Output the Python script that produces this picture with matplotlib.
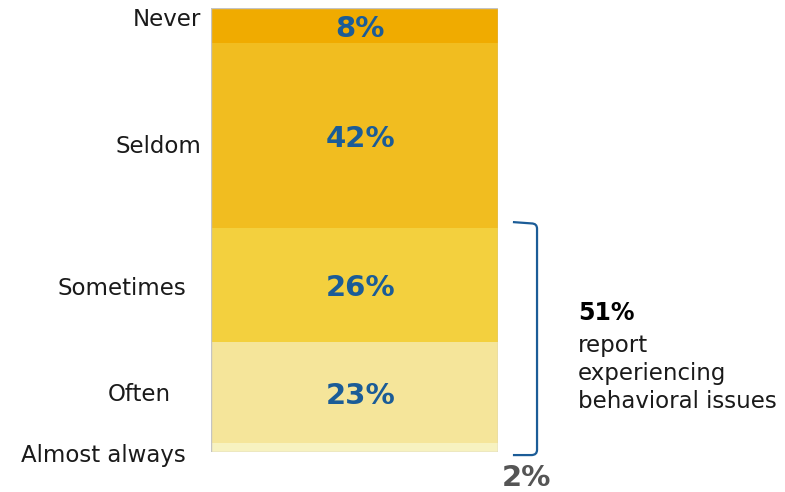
import matplotlib.pyplot as plt
from matplotlib.path import Path
from matplotlib.patches import PathPatch, Rectangle

# Frecuencia de problemas de conducta (% de respuestas)
categorias = ['Almost always', 'Often', 'Sometimes', 'Seldom', 'Never']
porcentajes = [2, 23, 26, 42, 8]
colores = ['#F7F2C0', '#F5E59A', '#F3D03E', '#F1BD20', '#F0AB00']
etiquetas_valor = ['', '23%', '26%', '42%', '8%']
# desplazamiento de cada etiqueta de categoría respecto al centro del tramo
desplaz_x = [-0.087, -0.139, -0.087, -0.035, -0.035]
desplaz_y = [-1.9, -0.5, -0.7, -2.4, 1.3]

total_problemas = 51
texto_problemas = ['report', 'experiencing', 'behavioral issues']

azul = '#1B5C97'

fig = plt.figure(figsize=(7.85, 4.92), dpi=100)
ax = fig.add_axes([211 / 785, 40 / 492, 287 / 785, 444 / 492])

base = 0
for cat, val, col, etq, dx, dy in zip(categorias, porcentajes, colores,
                                      etiquetas_valor, desplaz_x, desplaz_y):
    ax.bar(0.5, val, width=1, bottom=base, color=col, edgecolor='none')
    centro = base + val / 2
    if etq:
        ax.text(0.52, centro - 0.7, etq, ha='center', va='center', fontsize=21,
                fontweight='bold', color=azul)
    ax.text(dx, centro + dy, cat, ha='right', va='center', fontsize=16.5,
            color='#1a1a1a', clip_on=False)
    base += val

# borde exterior de la barra
ax.add_patch(Rectangle((0, 0), 1, base, fill=False, edgecolor='#c4c4c4', lw=1))

ax.set_xlim(0, 1)
ax.set_ylim(0, base)
ax.axis('off')

# corchete que agrupa Sometimes + Often + Almost always
y_top = total_problemas + 1.3
y_bot = -0.7
x0, x1 = 1.052, 1.136
rx, ry = 0.02, 1.2
verts = [(x0, y_top), (x1 - rx, y_top - 0.3), (x1, y_top - 0.3), (x1, y_top - 0.3 - ry),
         (x1, y_bot + ry), (x1, y_bot), (x1 - rx, y_bot), (x0, y_bot)]
codes = [Path.MOVETO, Path.LINETO, Path.CURVE3, Path.CURVE3,
         Path.LINETO, Path.CURVE3, Path.CURVE3, Path.LINETO]
ax.add_patch(PathPatch(Path(verts, codes), fill=False, edgecolor=azul, lw=1.6,
                       clip_on=False))

ax.text(1.279, 31.6, f'{total_problemas}%', ha='left', va='center', fontsize=17,
        fontweight='bold', color='black', clip_on=False)
for i, linea in enumerate(texto_problemas):
    ax.text(1.279, 24.3 - i * 6.45, linea, ha='left', va='center', fontsize=16.5,
            color='#1a1a1a', clip_on=False)

ax.text(1.10, -5.9, f'{porcentajes[0]}%', ha='center', va='center', fontsize=21,
        fontweight='bold', color='#555555', clip_on=False)

plt.savefig('out.png', dpi=100)
